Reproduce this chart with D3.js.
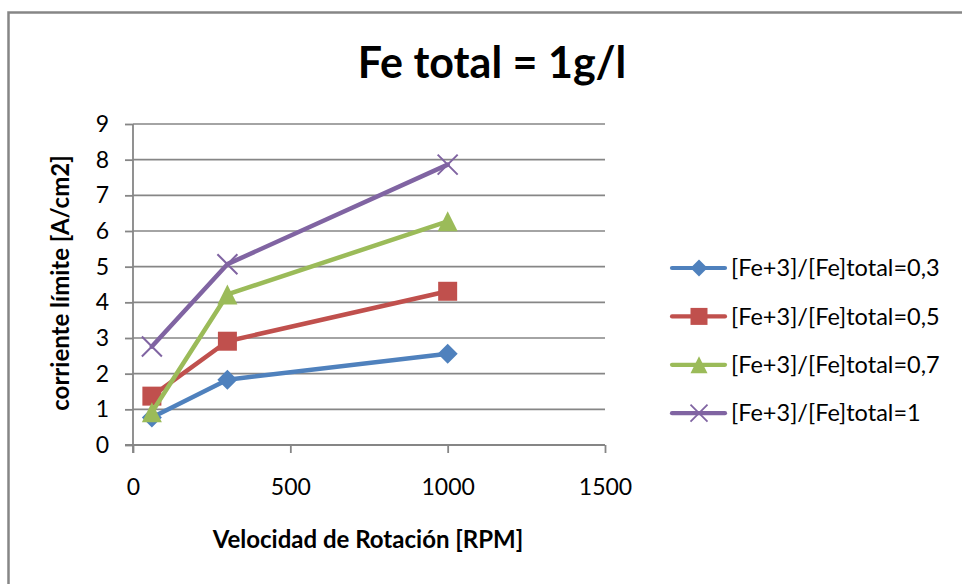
<!DOCTYPE html>
<html>
<head>
<meta charset="utf-8">
<script src="https://cdn.jsdelivr.net/npm/d3@7"></script>
<style>
  html, body { margin: 0; padding: 0; background: #fff; }
  svg { display: block; }
  text { font-family: Lato, "Open Sans", sans-serif; fill: #000; }
</style>
</head>
<body>
<svg id="chart" width="962" height="584"></svg>
<script>
// Rotation speed (RPM) of each measurement
const rpm = [60, 300, 1000];

// Limiting current [A/cm2] for each Fe3+/Fe total ratio
const ratio03 = [0.77, 1.83, 2.56];
const ratio05 = [1.37, 2.91, 4.31];
const ratio07 = [0.92, 4.22, 6.27];
const ratio10 = [2.76, 5.07, 7.86];

const seriesNames = [
  "[Fe+3]/[Fe]total=0,3",
  "[Fe+3]/[Fe]total=0,5",
  "[Fe+3]/[Fe]total=0,7",
  "[Fe+3]/[Fe]total=1"
];
const seriesColors = ["#4F81BD", "#C0504D", "#9BBB59", "#8064A2"];
const seriesMarkers = ["diamond", "square", "triangle", "cross"];

const xTicks = [0, 500, 1000, 1500];
const yTicks = [0, 1, 2, 3, 4, 5, 6, 7, 8, 9];

const titleText = "Fe total = 1g/l";
const xTitle = "Velocidad de Rotación [RPM]";
const yTitle = "corriente límite [A/cm2]";

const series = [ratio03, ratio05, ratio07, ratio10].map((vals, i) => ({
  name: seriesNames[i],
  color: seriesColors[i],
  marker: seriesMarkers[i],
  points: vals.map((v, j) => ({ x: rpm[j], y: v }))
}));

const svg = d3.select("#chart");
const gray = "#868686";

// chart frame
svg.append("rect")
  .attr("x", 8.5).attr("y", 12.5)
  .attr("width", 1000).attr("height", 700)
  .attr("fill", "#fff")
  .attr("stroke", gray).attr("stroke-width", 2.5);

const x = d3.scaleLinear().domain([0, 1500]).range([133, 605]);
const y = d3.scaleLinear().domain([0, 9]).range([445, 124]);

// horizontal gridlines
svg.append("g")
  .selectAll("line")
  .data(yTicks.filter(d => d > 0))
  .join("line")
  .attr("x1", x(0)).attr("x2", x(1500))
  .attr("y1", d => y(d)).attr("y2", d => y(d))
  .attr("stroke", gray).attr("stroke-width", 1.6);

// y axis
const yAxis = svg.append("g")
  .attr("transform", `translate(${x(0)},0)`)
  .call(d3.axisLeft(y).tickValues(yTicks).tickSize(8).tickPadding(16).tickFormat(d3.format("d")));
// x axis
const xAxis = svg.append("g")
  .attr("transform", `translate(0,${y(0)})`)
  .call(d3.axisBottom(x).tickValues(xTicks).tickSize(8).tickPadding(26).tickFormat(d3.format("d")));

[yAxis, xAxis].forEach(g => {
  g.select(".domain").attr("stroke", gray).attr("stroke-width", 1.8);
  g.selectAll(".tick line").attr("stroke", gray).attr("stroke-width", 1.8);
  g.selectAll(".tick text")
    .attr("font-family", "Lato, 'Open Sans', sans-serif")
    .attr("font-size", 23)
    .attr("fill", "#000");
});
// extend the axis lines past the crossing like the tick marks
yAxis.select(".domain").attr("d", `M0,${y(9)}V${y(0) + 8}`);
xAxis.select(".domain").attr("d", `M${x(0) - 8},0H${x(1500)}`);

// marker shapes
function markerPath(type, s) {
  const h = s / 2;
  switch (type) {
    case "diamond": return `M0,${-h}L${h},0L0,${h}L${-h},0Z`;
    case "square": return `M${-h},${-h}H${h}V${h}H${-h}Z`;
    case "triangle": return `M0,${-h}L${h},${h}L${-h},${h}Z`;
    case "cross": return `M${-h},${-h}L${h},${h}M${h},${-h}L${-h},${h}`;
  }
}

const line = d3.line().x(d => x(d.x)).y(d => y(d.y));

const sg = svg.append("g").selectAll("g").data(series).join("g");
sg.append("path")
  .attr("d", d => line(d.points))
  .attr("fill", "none")
  .attr("stroke", d => d.color)
  .attr("stroke-width", 4.5)
  .attr("stroke-linejoin", "round")
  .attr("stroke-linecap", "round");
sg.each(function (s) {
  d3.select(this).selectAll(".mk")
    .data(s.points)
    .join("path")
    .attr("class", "mk")
    .attr("transform", d => `translate(${x(d.x)},${y(d.y)})`)
    .attr("d", markerPath(s.marker, s.marker === "square" ? 19 : 20))
    .attr("fill", s.marker === "cross" ? "none" : s.color)
    .attr("stroke", s.color)
    .attr("stroke-width", s.marker === "cross" ? 2 : 0);
});

// legend
const legend = svg.append("g")
  .selectAll("g")
  .data(series)
  .join("g")
  .attr("transform", (d, i) => `translate(672,${268 + i * 48.4})`);
legend.append("line")
  .attr("x1", 0).attr("x2", 53)
  .attr("stroke", d => d.color).attr("stroke-width", 4.2)
  .attr("stroke-linecap", "round");
legend.append("path")
  .attr("transform", "translate(27,0)")
  .attr("d", d => markerPath(d.marker, 17))
  .attr("fill", d => d.marker === "cross" ? "none" : d.color)
  .attr("stroke", d => d.color)
  .attr("stroke-width", d => d.marker === "cross" ? 1.8 : 0);
legend.append("text")
  .attr("x", 59).attr("y", 0)
  .attr("dy", "0.35em")
  .attr("font-size", 23.5)
  .text(d => d.name);

// titles
svg.append("text")
  .attr("x", 492).attr("y", 78)
  .attr("text-anchor", "middle")
  .attr("font-weight", "bold")
  .attr("font-size", 43)
  .text(titleText);

svg.append("text")
  .attr("x", 368).attr("y", 548)
  .attr("text-anchor", "middle")
  .attr("font-weight", "bold")
  .attr("font-size", 24)
  .text(xTitle);

svg.append("text")
  .attr("transform", "translate(69,283) rotate(-90)")
  .attr("text-anchor", "middle")
  .attr("font-weight", "bold")
  .attr("font-size", 24)
  .text(yTitle);
</script>
</body>
</html>
